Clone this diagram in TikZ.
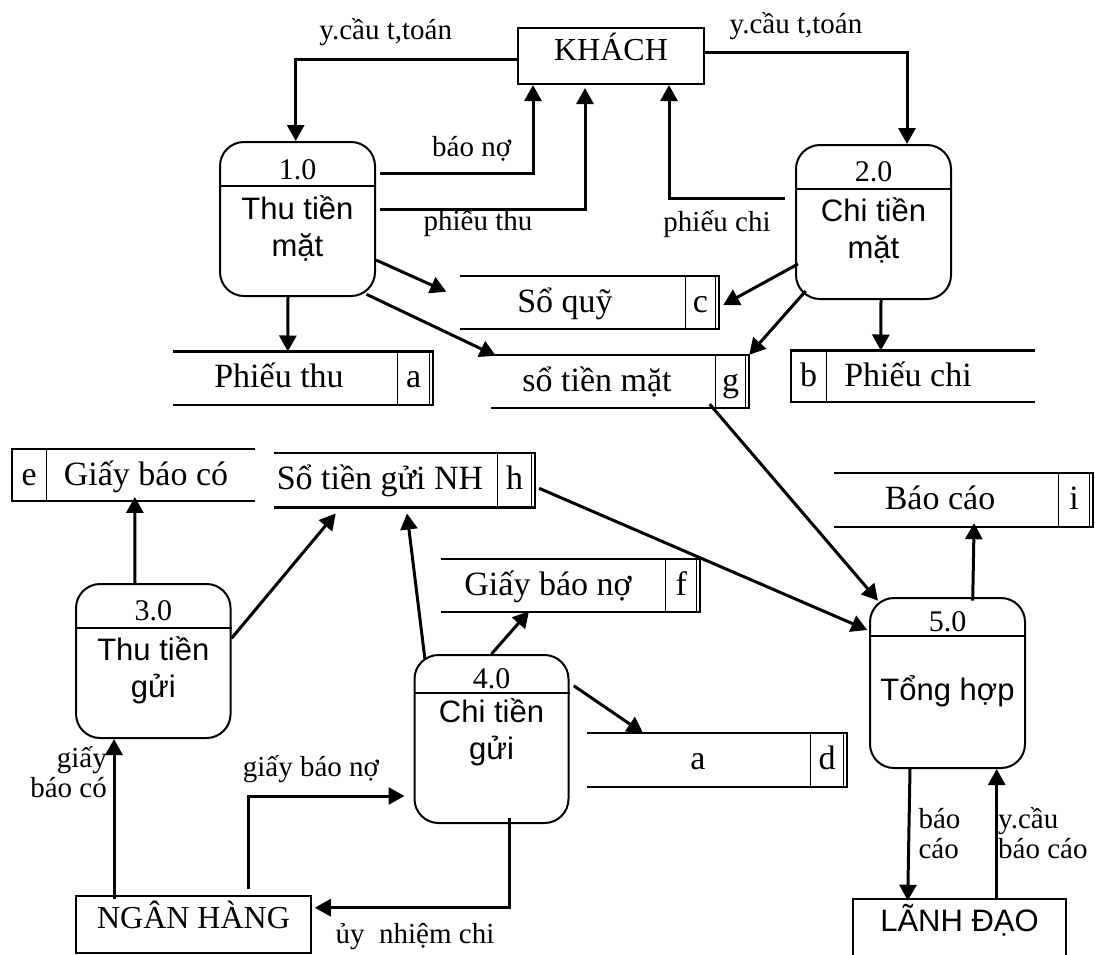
\documentclass[tikz,border=0pt]{standalone}
\usepackage{fontspec}
\setmainfont{Liberation Serif}
\newfontfamily\arialf{Liberation Sans}
\usetikzlibrary{arrows.meta,calc,fit}

\tikzset{
  x=1pt, y=-1pt,
  flow/.style={line width=3pt, -{Triangle[length=16pt,width=17pt]}},
  proc/.style={draw, line width=2pt, rounded corners=24pt, inner sep=0pt},
  procsep/.style={line width=2pt},
  ent/.style={draw, line width=2pt, inner sep=0pt, font=\fontsize{32}{34}\selectfont},
  lbl/.style={inner sep=0pt, font=\fontsize{29}{30}\selectfont},
  numtxt/.style={inner sep=0pt, font=\fontsize{30}{32}\selectfont},
  proctxt/.style={inner sep=0pt, font=\arialf\fontsize{31}{37.5}\selectfont},
  storetxt/.style={inner sep=0pt, font=\fontsize{34}{36}\selectfont},
  storeedge/.style={line width=2.4pt},
  storediv/.style={line width=1pt},
  area/.style={inner sep=0pt, draw=none},
}

% data store, identifier on the right: name, left, top, divider x, right, bottom, text x, text, id
\newcommand{\storeR}[9]{%
  \coordinate (#1-a) at (#2,#3);
  \coordinate (#1-b) at (#5,#6);
  \node[area, fit=(#1-a)(#1-b)] (#1) {};
  \draw[storeedge] (#1.north west) -- (#1.north east) -- (#1.south east) -- (#1.south west);
  \draw[storediv] (#4,#3) -- (#4,#6);
  \draw[storediv] ($(#1.north east)+(-3.5,0)$) -- ($(#1.south east)+(-3.5,0)$);
  \node[storetxt, anchor=base] (#1-t) at (#7,{#3+36}) {#8};
  \node[storetxt, anchor=base] (#1-id) at ({(#4+#5)/2-1.5},{#3+36}) {#9};
}
% data store, identifier on the left: name, left, top, divider x, right, bottom, text x, id, text
\newcommand{\storeL}[9]{%
  \coordinate (#1-a) at (#2,#3);
  \coordinate (#1-b) at (#5,#6);
  \node[area, fit=(#1-a)(#1-b)] (#1) {};
  \draw[storeedge] (#1.north east) -- (#1.north west) -- (#1.south west) -- (#1.south east);
  \draw[storediv] (#4,#3) -- (#4,#6);
  \node[storetxt, anchor=base] (#1-id) at ({(#2+#4)/2},{#3+36}) {#8};
  \node[storetxt, anchor=base] (#1-t) at (#7,{#3+36}) {#9};
}

\begin{document}
\begin{tikzpicture}
\useasboundingbox (0,0) rectangle (1095,954);

% external entities
\node[ent, minimum width=186pt, minimum height=56pt, text height=20pt, text depth=12pt] (k) at (611,56) {KHÁCH};
\node[ent, minimum width=235pt, minimum height=57pt, text height=20pt, text depth=12.4pt] (nh) at (193.5,924.5) {NGÂN HÀNG};
\node[ent, minimum width=213pt, minimum height=70pt, text height=20pt, text depth=24.6pt, font=\arialf\fontsize{31}{33}\selectfont] (ld) at (959.5,934) {LÃNH ĐẠO};

% processes
\node[proc, minimum width=155pt, minimum height=154pt] (p1) at (297.5,219) {};
\draw[procsep] ($(p1.north west)+(0,45)$) -- ($(p1.north east)+(0,45)$);
\node[numtxt, anchor=base] (p1-n) at ($(p1.north)+(0,38)$) {1.0};
\node[proctxt, anchor=base] (p1-t) at ($(p1.north)+(0,78)$) {\begin{tabular}[t]{@{}c@{}}Thu tiền\\mặt\end{tabular}};

\node[proc, minimum width=155pt, minimum height=154pt] (p2) at (873.5,222) {};
\draw[procsep] ($(p2.north west)+(0,45)$) -- ($(p2.north east)+(0,45)$);
\node[numtxt, anchor=base] (p2-n) at ($(p2.north)+(0,37)$) {2.0};
\node[proctxt, anchor=base] (p2-t) at ($(p2.north)+(0,77)$) {\begin{tabular}[t]{@{}c@{}}Chi tiền\\mặt\end{tabular}};

\node[proc, minimum width=154.5pt, minimum height=154pt] (p3) at (153.3,661) {};
\draw[procsep] ($(p3.north west)+(0,45.3)$) -- ($(p3.north east)+(0,45.3)$);
\node[numtxt, anchor=base] (p3-n) at ($(p3.north)+(0,37.7)$) {3.0};
\node[proctxt, anchor=base] (p3-t) at ($(p3.north)+(0,77)$) {\begin{tabular}[t]{@{}c@{}}Thu tiền\\gửi\end{tabular}};

\node[proc, minimum width=154pt, minimum height=168pt] (p4) at (491.5,739) {};
\draw[procsep] ($(p4.north west)+(0,39)$) -- ($(p4.north east)+(0,39)$);
\node[numtxt, anchor=base] (p4-n) at ($(p4.north)+(0,34)$) {4.0};
\node[proctxt, anchor=base] (p4-t) at ($(p4.north)+(0,68)$) {\begin{tabular}[t]{@{}c@{}}Chi tiền\\gửi\end{tabular}};

\node[proc, minimum width=155pt, minimum height=170pt] (p5) at (947.5,683) {};
\draw[procsep] ($(p5.north west)+(0,38.7)$) -- ($(p5.north east)+(0,38.7)$);
\node[numtxt, anchor=base] (p5-n) at ($(p5.north)+(0,34.7)$) {5.0};
\node[proctxt, anchor=base] (p5-t) at ($(p5.north)+(0,103.7)$) {Tổng hợp};

% data stores
\storeR{sa}{173}{351.7}{397.5}{432.7}{405}{279}{Phiếu thu}{a}
\storeR{sc}{460}{276}{685}{719}{329}{565}{Sổ quỹ}{c}
\storeR{sg}{491}{355}{715}{749}{407.7}{597}{sổ tiền mặt}{g}
\storeL{sb}{791}{350.7}{826}{1035}{402}{908}{b}{Phiếu chi}
\storeL{se}{12}{449}{46.4}{255}{500.7}{146}{e}{Giấy báo có}
\storeR{sh}{274}{453.3}{497.5}{534.6}{507.3}{380}{Sổ tiền gửi NH}{h}
\storeR{sf}{441}{559}{665.7}{700}{612}{548}{Giấy báo nợ}{f}
\storeR{sd}{586.7}{733.3}{810.7}{846.7}{786.7}{698}{a}{d}
\storeR{si}{834}{473}{1058}{1093}{527}{940}{Báo cáo}{i}

% data flows
\draw[flow] ($(k.west)+(0,3.3)$) -| ($(p1.north)+(-1.8,0)$);
\draw[flow] ($(k.east)+(0,-3.3)$) -| ($(p2.north)+(33.5,0)$);
\draw[flow] ($(p1.east)+(4,-46)$) -| ($(k.south)+(-78,0)$);
\draw[flow] ($(p1.east)+(4,-10)$) -| ($(k.south)+(-26,3)$);
\draw[flow] ($(p2.west)+(-10,-24)$) -| ($(k.south)+(58,0)$);
\draw[flow] ($(p1.south)+(-9.5,0)$) -- ($(sa.north west)+(115,0)$);
\draw[flow] ($(p1.east)+(0,41)$) -- ($(sc.west)+(-13.4,-10.8)$);
\draw[flow] ($(p1.south east)+(-9.5,-2.7)$) -- ($(sg.north west)+(5,1)$);
\draw[flow] ($(p2.west)+(3,42)$) -- ($(sc.east)+(4,2.5)$);
\draw[flow] ($(p2.south west)+(10.7,-9)$) -- (sg.north east);
\draw[flow] ($(p2.south)+(7.5,0)$) -- ($(sb.north west)+(90,0)$);
\draw[flow] ($(sg.south east)+(-39.5,-3.7)$) -- ($(p5.north west)+(9,3.7)$);
\draw[flow] ($(sh.east)+(4.4,8)$) -- ($(p5.west)+(-1.7,-53)$);
\draw[flow] ($(p3.north)+(-18.3,0)$) -- ($(se.south west)+(123,-4)$);
\draw[flow] ($(p3.east)+(0,-22.7)$) -- ($(sh.south)+(-68.6,6)$);
\draw[flow] ($(p4.north west)+(11.5,5.7)$) -- ($(sh.south)+(2.7,6)$);
\draw[flow] (p4.north) -- ($(sf.south)+(-41.5,-1)$);
\draw[flow] ($(p4.north east)+(4.2,31.7)$) -- ($(sd.north west)+(56.6,0)$);
\draw[flow] ($(nh.north)+(-79.5,4)$) -- ($(p3.south)+(-39.3,0)$);
\draw[flow] ($(nh.north)+(54.5,-6)$) |- ($(p4.west)+(-9,57)$);
\draw[flow] ($(p4.south)+(17.5,-6)$) |- ($(nh.east)+(2.8,-16.8)$);
\draw[flow] ($(p5.north)+(25.2,3.7)$) -- ($(si.south)+(10.6,-4)$);
\draw[flow] ($(p5.south)+(-37.5,0)$) -- ($(ld.north)+(-51.8,2.7)$);
\draw[flow] ($(ld.north)+(37.2,0)$) -- ($(p5.south)+(49.2,0)$);

% flow labels
\node[lbl, anchor=base] (l-yc1) at (385.7,39.3) {y.cầu t,toán};
\node[lbl, anchor=base] (l-yc2) at (796,33.3) {y.cầu t,toán};
\node[lbl, anchor=base] (l-bn) at (471.7,156.7) {báo nợ};
\node[lbl, anchor=base] (l-pt) at (478,230) {phiếu thu};
\node[lbl, anchor=base] (l-pc) at (717,231.7) {phiếu chi};
\node[lbl, anchor=base east] (l-gbc) at (107,767) {\begin{tabular}[t]{@{}r@{}}giấy\\báo có\end{tabular}};
\node[lbl, anchor=base] (l-gbn) at (311,776.7) {giấy báo nợ};
\node[lbl, anchor=base] (l-unc) at (415,943.3) {ủy~~nhiệm chi};
\node[lbl, anchor=base west] (l-bc) at (918.3,828.3) {\begin{tabular}[t]{@{}l@{}}báo\\cáo\end{tabular}};
\node[lbl, anchor=base west] (l-ycbc) at (998,828.3) {\begin{tabular}[t]{@{}l@{}}y.cầu\\báo cáo\end{tabular}};
\end{tikzpicture}
\end{document}
